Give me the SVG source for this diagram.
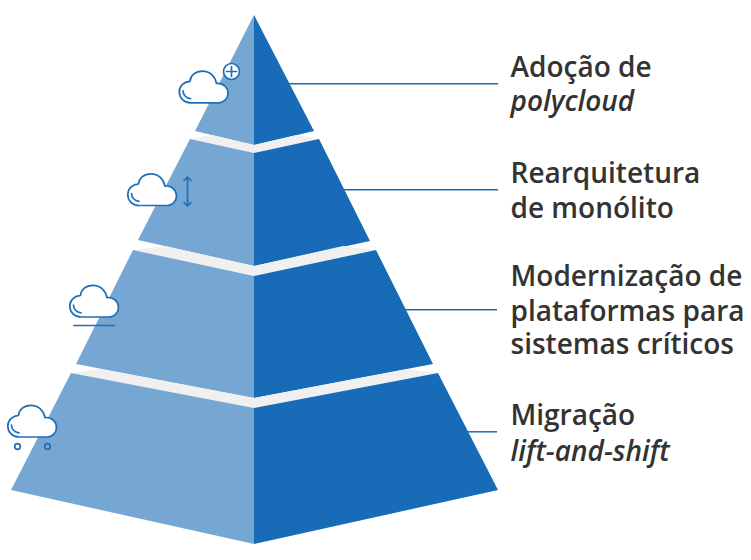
<svg xmlns="http://www.w3.org/2000/svg" xmlns:xlink="http://www.w3.org/1999/xlink" width="751" height="560" viewBox="0 0 751 560">
<style>
.l{fill:#76a7d3}.d{fill:#186bb6}.g{fill:#f0f0f0}
.c{stroke:#1a6cb5;stroke-width:1.5;fill:none}
.ic{stroke:#1f6fb7;stroke-width:1.7;fill:none;stroke-linecap:round;stroke-linejoin:round}
.t{font-family:"Open Sans",sans-serif;font-size:28px;font-weight:600;fill:#333}
.i{font-style:italic}
</style>
<defs>
<g id="cloud">
<path d="M12 32.500H40C45.500 32.500 49.500 28 49.500 23C49.500 17.500 45 13 39.500 13C38.800 13 38.400 13.100 38 13.200C36.500 5.500 31 0.800 24 0.800C17 0.800 12 5 11.500 11C5 11.500 0.800 16 0.800 21.500C0.800 27.800 5.500 32.500 12 32.500Z" class="ic" style="fill:#fff"/>
<path d="M4.500 20.500C4.500 24.500 7.500 27.800 12 28.300" class="ic"/>
</g>
</defs>
<g id="tier-1">
<polygon class="l" points="254,15 254,145 195,131"/>
<polygon class="d" points="254,15 254,145 314,131"/>
</g>
<g id="tier-2">
<polygon class="g" points="254,145 212,135 190,139 254,153 319,139 297,135"/>
<polygon class="l" points="190,139 254,153 254,266 138,240"/>
<polygon class="d" points="319,139 254,153 254,266 370,241"/>
</g>
<g id="tier-3">
<polygon class="g" points="254,266 165,246 133,250 254,276 376,250 343,246"/>
<polygon class="l" points="133,250 254,276 254,398 76,364"/>
<polygon class="d" points="376,250 254,276 254,398 433,364"/>
</g>
<g id="tier-4">
<polygon class="g" points="254,398 100,369 71,373 254,408 438,373 408,369"/>
<polygon class="l" points="71,373 254,408 254,544 11,490"/>
<polygon class="d" points="438,373 254,408 254,544 498,490"/>
</g>
<g id="connectors">
<line class="c" x1="287" y1="83.800" x2="498" y2="83.800"/>
<line class="c" x1="343" y1="189.800" x2="498" y2="189.800"/>
<line class="c" x1="405" y1="309.800" x2="497" y2="309.800"/>
<line class="c" x1="467" y1="431.800" x2="497" y2="431.800"/>
</g>
<g id="icon-1">
<use xlink:href="#cloud" href="#cloud" x="178.500" y="70.300"/>
<circle class="ic" cx="231.500" cy="71.500" r="8" style="fill:#fff"/>
<path class="ic" d="M226.500 71.500H236.500M231.500 66.500V76.500"/>
</g>
<g id="icon-2">
<use xlink:href="#cloud" href="#cloud" x="127" y="173"/>
<path class="ic" d="M187.500 177V206M184 180.500L187.500 177L191 180.500M184 202.500L187.500 206L191 202.500"/>
</g>
<g id="icon-3">
<use xlink:href="#cloud" href="#cloud" x="69" y="284.500"/>
<line class="ic" x1="74" y1="325.500" x2="114.500" y2="325.500"/>
</g>
<g id="icon-4">
<use xlink:href="#cloud" href="#cloud" x="7" y="404.500"/>
<circle class="ic" cx="17.500" cy="446.500" r="2.800"/>
<circle class="ic" cx="47.500" cy="446.500" r="2.800"/>
</g>
<g id="label-1">
<text class="t" x="510.500" y="77.300">Adoção de</text>
<text class="t i" x="510.500" y="111.300">polycloud</text>
</g>
<g id="label-2">
<text class="t" x="510.500" y="183.300">Rearquitetura</text>
<text class="t" x="510.500" y="218.300">de monólito</text>
</g>
<g id="label-3">
<text class="t" x="510.500" y="286.300">Modernização de</text>
<text class="t" x="510.500" y="321.300">plataformas para</text>
<text class="t" x="510.500" y="354.300">sistemas críticos</text>
</g>
<g id="label-4">
<text class="t" x="510.500" y="425.300">Migração</text>
<text class="t i" x="510.500" y="461.300">lift-and-shift</text>
</g>
</svg>
